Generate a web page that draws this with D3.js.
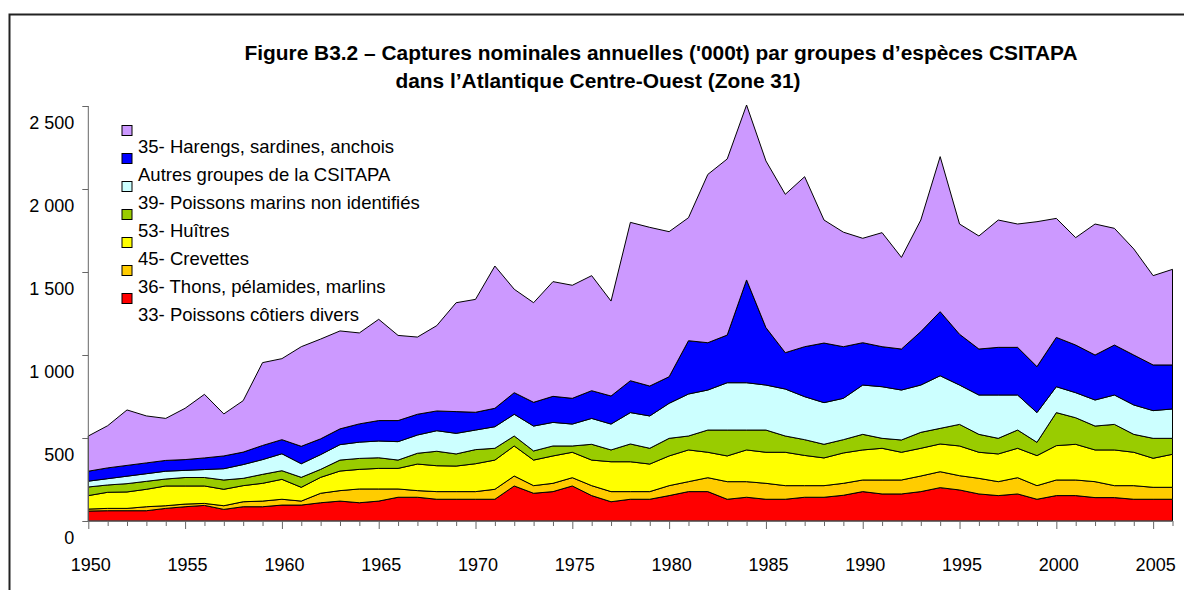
<!DOCTYPE html>
<html>
<head>
<meta charset="utf-8">
<script src="https://cdn.jsdelivr.net/npm/d3@7"></script>
<style>
  body { margin: 0; background: #fff; }
  svg { display: block; font-family: "Liberation Sans", Arial, sans-serif; }
</style>
</head>
<body>
<svg id="chart" width="1184" height="590"></svg>
<script>
// years 1950..2006
var years = d3.range(1950, 2007);

// catches ('000 t) per group, bottom layer first
var cotiers  = [60,62,62,62,76,86,94,70,86,86,96,96,110,120,110,120,143,143,131,131,131,131,211,167,177,211,153,116,131,131,153,177,177,131,143,131,131,143,143,155,177,163,163,177,201,187,163,153,163,131,153,153,141,141,131,131,131];
var thons    = [12,14,14,24,16,16,12,22,30,34,35,24,57,63,83,73,50,40,46,46,46,60,60,46,50,50,60,61,46,46,60,60,84,106,94,96,82,70,70,72,70,84,84,94,96,86,94,84,98,82,94,94,96,72,82,72,72];
var crevettes= [81,97,99,105,119,109,105,99,97,107,120,83,96,118,118,124,124,160,156,154,168,176,181,154,165,153,154,180,180,166,179,191,153,155,191,187,201,182,167,183,181,191,167,167,167,179,157,167,177,181,207,215,191,215,201,175,199];
var huitres  = [52,44,50,48,42,51,51,56,44,54,52,60,48,66,66,64,50,65,87,73,85,71,60,55,60,38,95,71,107,95,106,84,134,156,120,134,98,95,82,80,94,60,74,96,94,130,108,94,110,80,199,160,144,154,108,120,96];
var nonident = [35,38,45,46,47,43,48,68,83,89,102,82,89,93,98,101,111,110,124,124,118,130,131,150,142,132,156,156,189,195,211,253,241,285,285,271,283,259,251,249,297,311,301,285,317,237,237,261,211,179,156,151,157,177,177,167,177];
var autres   = [60,65,65,65,65,65,70,77,75,85,85,105,95,95,110,123,127,125,119,131,107,111,130,143,157,155,167,169,192,180,160,321,285,287,619,346,219,301,359,311,255,241,247,322,386,306,277,287,287,277,297,287,271,301,301,275,265];
var harengs  = [212,254,334,283,253,309,383,253,310,499,488,600,601,590,548,610,513,465,514,656,680,857,623,600,691,681,693,572,954,956,874,741,1014,1061,1054,1004,954,1024,741,690,629,687,552,672,934,664,681,767,743,873,717,647,789,703,639,538,576];

var seriesNames = ["33- Poissons côtiers divers", "36- Thons, pélamides, marlins", "45- Crevettes",
                   "53- Huîtres", "39- Poissons marins non identifiés", "Autres groupes de la CSITAPA",
                   "35- Harengs, sardines, anchois"];
var seriesColors = ["#FF0000", "#FFCC00", "#FFFF00", "#99CC00", "#CCFFFF", "#0000FF", "#CC99FF"];
var seriesValues = [cotiers, thons, crevettes, huitres, nonident, autres, harengs];

var yTicks = [0, 500, 1000, 1500, 2000, 2500];
var titleLines = ["Figure B3.2 \u2013 Captures nominales annuelles ('000t) par groupes d\u2019esp\u00e8ces CSITAPA",
                  "dans l\u2019Atlantique Centre-Ouest (Zone 31)"];

var svg = d3.select("#chart");

// outer frame
svg.append("rect")
    .attr("x", 9.5).attr("y", 14.5)
    .attr("width", 1300).attr("height", 700)
    .attr("fill", "none").attr("stroke", "#222").attr("stroke-width", 2);

var x = d3.scaleLinear().domain([1950, 2006]).range([88.3, 1172.5]);
var y = d3.scaleLinear().domain([0, 2500]).range([521, 106]);

// build rows for the stack
var keys = d3.range(seriesValues.length);
var rows = years.map(function(yr, i) {
    var r = {year: yr};
    keys.forEach(function(k) { r[k] = seriesValues[k][i]; });
    return r;
});
var stacked = d3.stack().keys(keys)(rows);

var area = d3.area()
    .x(function(d) { return x(d.data.year); })
    .y0(function(d) { return y(d[0]); })
    .y1(function(d) { return y(d[1]); });

svg.append("g").selectAll("path")
    .data(stacked)
    .enter().append("path")
    .attr("d", area)
    .attr("fill", function(d) { return seriesColors[d.key]; })
    .attr("stroke", "#000")
    .attr("stroke-width", 1)
    .attr("stroke-linejoin", "round");

// y axis
var yAxis = svg.append("g")
    .attr("transform", "translate(88.3,0)")
    .call(d3.axisLeft(y).tickValues(yTicks).tickSize(6).tickPadding(8)
        .tickFormat(function(d) { return d3.format(",")(d).replace(",", " "); }));
yAxis.selectAll("path, line").attr("stroke", "#666");
yAxis.select(".domain").attr("d", "M0,106V521");
yAxis.selectAll("text")
    .attr("y", 16.5)
    .attr("fill", "#000")
    .style("font-size", "18px")
    .style("font-family", "Liberation Sans, Arial, sans-serif");

// x axis
var xAxis = svg.append("g")
    .attr("transform", "translate(0,521)")
    .call(d3.axisBottom(x).tickValues(years).tickSize(5)
        .tickFormat(function(d) { return d % 5 === 0 ? d : ""; }));
xAxis.selectAll("path, line").attr("stroke", "#666");
xAxis.select(".domain").attr("d", "M88.3,0H1172.5");
xAxis.selectAll(".tick line").attr("y2", function(d) { return d % 5 === 0 ? 8 : 5; });
xAxis.selectAll("text")
    .attr("x", 2)
    .attr("y", 37.5)
    .attr("fill", "#000")
    .style("font-size", "18px")
    .style("font-family", "Liberation Sans, Arial, sans-serif");

// title
svg.selectAll(".title")
    .data(titleLines)
    .enter().append("text")
    .attr("class", "title")
    .attr("x", function(d, i) { return i === 0 ? 661 : 598; })
    .attr("y", function(d, i) { return 59.5 + i * 28; })
    .attr("text-anchor", "middle")
    .style("font-weight", "bold")
    .style("font-size", "20.9px")
    .text(function(d) { return d; });

// legend (top series first)
var legendOrder = keys.slice().reverse();
var legend = svg.append("g").selectAll("g")
    .data(legendOrder)
    .enter().append("g")
    .attr("transform", function(d, i) { return "translate(122," + (125.5 + i * 28) + ")"; });
legend.append("rect")
    .attr("width", 10).attr("height", 10)
    .attr("fill", function(d) { return seriesColors[d]; })
    .attr("stroke", "#000").attr("stroke-width", 1);
legend.append("text")
    .attr("x", 16)
    .attr("y", 27.5)
    .style("font-size", "18.5px")
    .text(function(d) { return seriesNames[d]; });
</script>
</body>
</html>
